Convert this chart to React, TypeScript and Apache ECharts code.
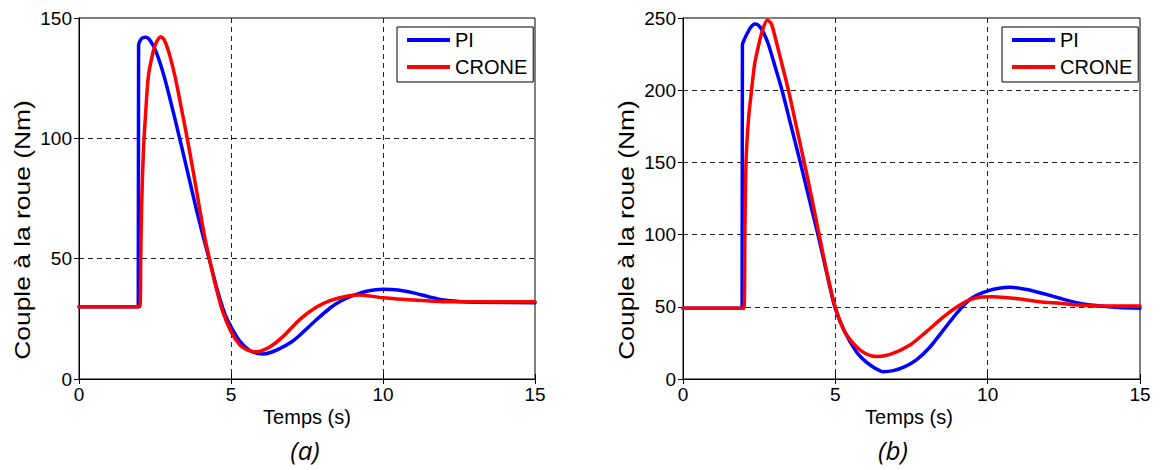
import React, { useEffect, useRef } from "react";
import * as echarts from "echarts";

const SERIES_NAMES = ["PI", "CRONE"];
const X_RANGE = [0, 15];
const Y_RANGE_A = [0, 150];
const Y_RANGE_B = [0, 250];
const CAPTIONS = ["(a)", "(b)"];
const X_LABEL = "Temps (s)";
const Y_LABEL = "Couple à la roue (Nm)";

// (a) PI
const aPiT = [0, 1.95, 1.96, 2.02, 2.1, 2.2, 2.3, 2.42, 2.55, 2.7, 2.86, 3.1, 3.33, 3.6, 3.87, 4.08, 4.29, 4.55, 4.8, 5.0, 5.3, 5.6, 5.85, 6.06, 6.3, 6.6, 7.0, 7.27, 7.8, 8.26, 8.6, 9.0, 9.5, 10.0, 10.5, 11.0, 11.5, 12.0, 12.5, 13.0, 15];
const aPiV = [30, 30, 138.8, 140.8, 141.8, 142, 141.3, 139, 135.5, 130, 123, 111, 99, 84.5, 70, 59.5, 49.5, 37, 27, 21.7, 15.5, 12, 10.7, 10.4, 11, 12.6, 15.5, 18.3, 24.5, 29.5, 32.3, 34.6, 36.6, 37.3, 37, 35.8, 34.2, 32.8, 32.2, 31.9, 31.7];
// (a) CRONE
const aCrT = [0, 2.0, 2.03, 2.06, 2.12, 2.2, 2.28, 2.44, 2.55, 2.69, 2.8, 2.95, 3.16, 3.36, 3.56, 3.76, 3.98, 4.15, 4.29, 4.45, 4.7, 5.0, 5.3, 5.55, 5.79, 6.0, 6.3, 6.7, 7.27, 7.8, 8.26, 8.8, 9.24, 10.0, 11.0, 12.0, 13.0, 15];
const aCrV = [30, 30, 50, 72, 95, 112, 125.6, 136, 140, 142.2, 141, 136, 125.6, 113, 100, 86, 70, 58, 50, 41, 29, 19.7, 14, 12, 11.3, 11.7, 13.5, 17.5, 24.8, 29.8, 32.6, 34.4, 34.9, 33.8, 32.8, 32.1, 32.1, 32.1];
// (b) PI
const bPiT = [0, 1.94, 1.95, 2.02, 2.11, 2.22, 2.36, 2.5, 2.65, 2.8, 3.0, 3.25, 3.55, 3.85, 4.15, 4.43, 4.7, 4.98, 5.3, 5.69, 6.0, 6.3, 6.56, 6.9, 7.3, 7.66, 8.1, 8.55, 9.0, 9.42, 10.0, 10.73, 11.5, 12.37, 13.0, 13.69, 14.3, 15];
const bPiV = [49, 49, 231.3, 235.5, 239.4, 243.5, 245.8, 244.5, 239.5, 232, 218, 200, 175, 150, 124, 100, 75, 50, 33, 18.9, 12, 7.5, 5.1, 5.8, 8.8, 13.2, 22, 34, 46, 55.2, 61, 63.5, 61, 55.9, 52.5, 50.5, 49.5, 49];
// (b) CRONE
const bCrT = [0, 2.0, 2.03, 2.07, 2.15, 2.25, 2.35, 2.47, 2.6, 2.77, 2.9, 3.02, 3.2, 3.46, 3.73, 4.0, 4.2, 4.43, 4.7, 4.98, 5.3, 5.69, 6.0, 6.35, 6.8, 7.45, 8.0, 8.55, 9.0, 9.42, 9.8, 10.17, 11.0, 11.7, 12.37, 13.0, 13.69, 15];
const bCrV = [49, 49, 100, 151, 180, 200, 218, 230, 241, 248.6, 246, 237, 222, 200, 174, 148, 128, 104, 76, 51, 33, 22.4, 17.5, 15.5, 17, 23.5, 33, 43, 50, 55, 56.8, 57, 55.5, 53.5, 52.4, 51.2, 50.5, 50.5];

const zip = (t: number[], v: number[]) => t.map((x, i) => [x, v[i]]);

const FONT = "Liberation Sans, Arial, sans-serif";
const BLUE = "#0000FF";
const RED = "#FF0000";

const GRIDS = [
  { left: 79, top: 18, width: 456, height: 361 },
  { left: 683, top: 18, width: 457, height: 361 },
];

export default function App() {
  const ref = useRef<HTMLDivElement>(null);
  useEffect(() => {
    if (!ref.current) return;
    const chart = echarts.init(ref.current, null, { renderer: "svg" });

    const mainX = (gi: number) => ({
      type: "value",
      gridIndex: gi,
      min: X_RANGE[0],
      max: X_RANGE[1],
      interval: 5,
      position: "bottom",
      axisLine: { show: true, lineStyle: { color: "#000", width: 1 } },
      axisTick: { show: true, inside: true, length: 5, lineStyle: { color: "#000" } },
      axisLabel: { color: "#000", fontSize: 19, fontFamily: FONT, margin: 6 },
      splitLine: { show: true, showMinLine: false, showMaxLine: false, lineStyle: { color: "#222", type: [5, 4], width: 1 } },
    });
    const mirrorX = (gi: number) => ({
      type: "value",
      gridIndex: gi,
      min: X_RANGE[0],
      max: X_RANGE[1],
      interval: 5,
      position: "top",
      axisLine: { show: true, lineStyle: { color: "#000", width: 1 } },
      axisTick: { show: true, inside: true, length: 5, lineStyle: { color: "#000" } },
      axisLabel: { show: false },
      splitLine: { show: false },
    });
    const mainY = (gi: number, r: number[]) => ({
      type: "value",
      gridIndex: gi,
      min: r[0],
      max: r[1],
      interval: 50,
      position: "left",
      axisLine: { show: true, lineStyle: { color: "#000", width: 1 } },
      axisTick: { show: true, inside: false, length: 4, lineStyle: { color: "#000" } },
      axisLabel: { color: "#000", fontSize: 19, fontFamily: FONT, margin: 7 },
      splitLine: { show: true, showMinLine: false, showMaxLine: false, lineStyle: { color: "#222", type: [5, 4], width: 1 } },
    });
    const mirrorY = (gi: number, r: number[]) => ({
      type: "value",
      gridIndex: gi,
      min: r[0],
      max: r[1],
      interval: 50,
      position: "right",
      axisLine: { show: true, lineStyle: { color: "#000", width: 1 } },
      axisTick: { show: true, inside: true, length: 5, lineStyle: { color: "#000" } },
      axisLabel: { show: false },
      splitLine: { show: false },
    });

    const line = (name: string, color: string, xi: number, yi: number, data: number[][]) => ({
      type: "line",
      name,
      xAxisIndex: xi,
      yAxisIndex: yi,
      data,
      showSymbol: false,
      smooth: 0.25,
      lineStyle: { color, width: 3.5, join: "round", cap: "round" },
      itemStyle: { color },
      z: color === RED ? 3 : 2,
    });

    const legend = (left: number) => ({
      data: SERIES_NAMES,
      orient: "vertical",
      left,
      top: 27,
      icon: "rect",
      itemWidth: 43,
      itemHeight: 4,
      itemGap: 7,
      padding: [3, 6, 5, 10],
      backgroundColor: "#fff",
      borderColor: "#000",
      borderWidth: 1,
      borderRadius: 0,
      selectedMode: false,
      textStyle: { color: "#000", fontSize: 20, fontFamily: FONT },
    });

    const text = (x: number, y: number, s: string, extra: any = {}, styleExtra: any = {}) => ({
      type: "text",
      x,
      y,
      ...extra,
      style: {
        text: s,
        fill: "#000",
        fontSize: 20,
        fontFamily: FONT,
        textAlign: "center",
        textVerticalAlign: "middle",
        ...styleExtra,
      },
    });

    chart.setOption({
      animation: false,
      backgroundColor: "#fff",
      grid: GRIDS.map((g) => ({ ...g, show: true, borderColor: "#000", borderWidth: 1, backgroundColor: "transparent", containLabel: false })),
      xAxis: [mainX(0), mainX(1), mirrorX(0), mirrorX(1)],
      yAxis: [mainY(0, Y_RANGE_A), mainY(1, Y_RANGE_B), mirrorY(0, Y_RANGE_A), mirrorY(1, Y_RANGE_B)],
      legend: [legend(397), legend(1002)],
      series: [
        line(SERIES_NAMES[0], BLUE, 0, 0, zip(aPiT, aPiV)),
        line(SERIES_NAMES[1], RED, 0, 0, zip(aCrT, aCrV)),
        line(SERIES_NAMES[0], BLUE, 1, 1, zip(bPiT, bPiV)),
        line(SERIES_NAMES[1], RED, 1, 1, zip(bCrT, bCrV)),
      ],
      graphic: [
        text(307, 417, X_LABEL),
        text(909, 417, X_LABEL),
        text(22.5, 230, Y_LABEL, { rotation: Math.PI / 2, scaleX: 1.2 }, { fontSize: 22 }),
        text(626, 230, Y_LABEL, { rotation: Math.PI / 2, scaleX: 1.2 }, { fontSize: 22 }),
        text(305, 450, CAPTIONS[0], {}, { fontSize: 26, fontStyle: "italic", fontFamily: "Open Sans, sans-serif" }),
        text(893, 450, CAPTIONS[1], {}, { fontSize: 26, fontStyle: "italic", fontFamily: "Open Sans, sans-serif" }),
      ],
    });
    return () => chart.dispose();
  }, []);
  return (
    <div
      ref={ref}
      style={{ position: "fixed", left: 0, top: 0, width: 1160, height: 470, background: "#fff" }}
    />
  );
}
